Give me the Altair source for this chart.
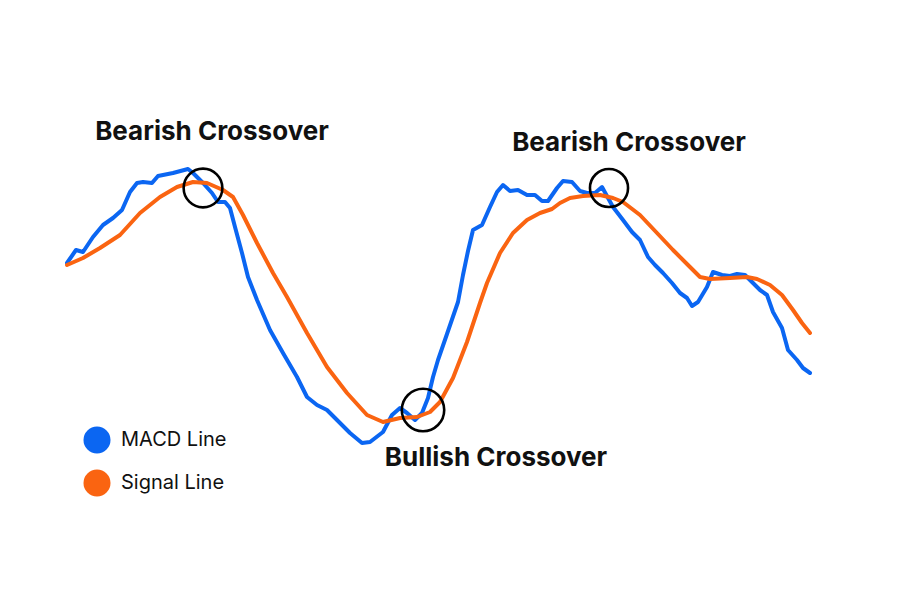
import altair as alt
import pandas as pd

# MACD line (x = time position, y = value on a top-down scale)
macd_x = [67, 76, 83, 93, 103, 113, 122, 130, 137, 143, 152, 158, 173, 188, 193, 203, 212, 218, 225, 230,
          235, 242, 248, 257, 270, 283, 297, 307, 317, 327, 337, 350, 362, 370, 383, 392, 400, 407, 415,
          422, 428, 433, 438, 447, 458, 463, 468, 473, 482, 490, 497, 503, 510, 518, 527, 535, 542, 548,
          557, 563, 572, 580, 587, 595, 602, 613, 623, 632, 640, 648, 655, 663, 672, 680, 687, 692, 698,
          707, 713, 722, 730, 737, 745, 753, 760, 767, 773, 782, 788, 797, 803, 810]
macd_y = [263, 250, 252, 237, 225, 218, 210, 192, 183, 182, 183, 176, 173, 169, 173, 183, 193, 202, 202, 208,
          227, 253, 277, 300, 330, 353, 377, 397, 405, 410, 420, 433, 443, 442, 432, 415, 408, 413, 420,
          413, 398, 377, 360, 334, 302, 275, 251, 230, 225, 207, 192, 185, 191, 190, 195, 195, 201, 201,
          188, 181, 182, 191, 193, 193, 187, 207, 220, 232, 240, 257, 265, 273, 283, 293, 298, 306, 302,
          287, 272, 275, 276, 274, 275, 283, 290, 295, 312, 328, 350, 360, 368, 373]

# Signal line
sig_x = [67, 83, 100, 120, 140, 160, 177, 193, 207, 223, 233, 243, 257, 273, 287, 307, 327, 347, 367, 383,
         400, 417, 430, 440, 453, 467, 480, 487, 500, 513, 527, 540, 552, 560, 570, 583, 600, 613, 623,
         640, 657, 673, 690, 700, 710, 730, 747, 757, 770, 782, 793, 802, 810]
sig_y = [265, 258, 248, 235, 213, 197, 187, 182, 183, 190, 197, 215, 243, 273, 297, 333, 367, 393, 415, 422,
         418, 417, 412, 402, 378, 342, 303, 283, 253, 233, 220, 213, 209, 203, 198, 196, 195, 198, 202,
         215, 233, 250, 267, 277, 279, 278, 277, 279, 285, 295, 310, 323, 333]

# Crossover markers and labels
cross_x = [203, 423, 609]
cross_y = [188, 410, 188]
cross_size = [1500, 1800, 1450]
label_text = ["Bearish Crossover", "Bullish Crossover", "Bearish Crossover"]
label_x = [212, 496, 629]
label_y = [132, 458, 143]

# Legend
legend_names = ["MACD Line", "Signal Line"]
legend_colors = ["#0B66F2", "#FA6411"]
legend_x = [97, 97]
legend_y = [440, 483]
legend_tx = [121, 121]

X = alt.Scale(domain=[8, 892])
Y = alt.Scale(domain=[8, 592], reverse=True)

macd = pd.DataFrame({"x": macd_x, "y": macd_y, "s": "MACD Line"})
sig = pd.DataFrame({"x": sig_x, "y": sig_y, "s": "Signal Line"})
lines = pd.concat([macd, sig])

line_chart = alt.Chart(lines).mark_line(strokeWidth=4, strokeJoin="round", strokeCap="round").encode(
    x=alt.X("x:Q", scale=X, axis=None),
    y=alt.Y("y:Q", scale=Y, axis=None),
    color=alt.Color("s:N", scale=alt.Scale(domain=legend_names, range=legend_colors), legend=None),
    order="x:Q",
    detail="s:N",
)

circles = alt.Chart(pd.DataFrame({"x": cross_x, "y": cross_y, "size": cross_size})).mark_point(
    shape="circle", filled=False, stroke="black", strokeWidth=2.6, opacity=1
).encode(
    x=alt.X("x:Q", scale=X, axis=None),
    y=alt.Y("y:Q", scale=Y, axis=None),
    size=alt.Size("size:Q", scale=None, legend=None),
)

labels = alt.Chart(pd.DataFrame({"x": label_x, "y": label_y, "t": label_text})).mark_text(
    font="Inter", fontSize=26, fontWeight="bold", color="#111111", align="center", baseline="middle"
).encode(
    x=alt.X("x:Q", scale=X, axis=None),
    y=alt.Y("y:Q", scale=Y, axis=None),
    text="t:N",
)

leg_df = pd.DataFrame({"x": legend_x, "y": legend_y, "tx": legend_tx, "n": legend_names})
leg_dots = alt.Chart(leg_df).mark_point(shape="circle", filled=True, size=730, opacity=1).encode(
    x=alt.X("x:Q", scale=X, axis=None),
    y=alt.Y("y:Q", scale=Y, axis=None),
    color=alt.Color("n:N", scale=alt.Scale(domain=legend_names, range=legend_colors), legend=None),
)
leg_text = alt.Chart(leg_df).mark_text(
    font="Inter", fontSize=20, color="#111111", align="left", baseline="middle"
).encode(
    x=alt.X("tx:Q", scale=X, axis=None),
    y=alt.Y("y:Q", scale=Y, axis=None),
    text="n:N",
)

chart = alt.layer(line_chart, circles, labels, leg_dots, leg_text).properties(
    width=884, height=584, padding=0, background="white",
    autosize=alt.AutoSizeParams(type="none")
).configure_view(strokeWidth=0, stroke="transparent")

chart.save("out.html", embed_options={"renderer": "svg", "actions": False})
